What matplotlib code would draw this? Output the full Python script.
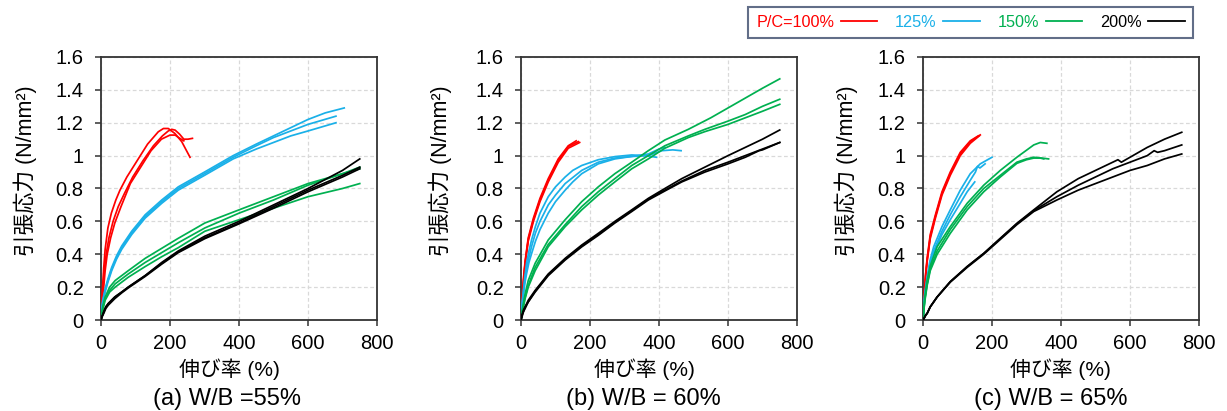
import matplotlib
matplotlib.use("Agg")
import matplotlib.pyplot as plt
from matplotlib.lines import Line2D
from matplotlib.ticker import FuncFormatter

plt.rcParams['font.family'] = ['Liberation Sans', 'Noto Sans CJK JP', 'DejaVu Sans']

# ---------------- data (elongation %, tensile stress N/mm2) ----------------
# panel (a) W/B = 55%
a_red = [
    [(0,0),(2,0.1),(4,0.18),(8,0.32),(12,0.43),(20,0.56),(30,0.65),(43,0.73),(55,0.79),(75,0.87),(105,0.97),(135,1.07),(166,1.145),(181,1.165),(195,1.165),(214,1.135),(234,1.085),(258,0.99)],
    [(0,0),(2,0.09),(5,0.18),(10,0.31),(15,0.4),(23,0.5),(35,0.6),(50,0.69),(68,0.77),(92,0.87),(122,0.97),(152,1.06),(178,1.12),(195,1.15),(205,1.16),(215,1.155),(228,1.13),(240,1.1),(252,1.1),(265,1.105)],
    [(0,0),(3,0.09),(7,0.18),(12,0.3),(18,0.4),(28,0.5),(40,0.59),(58,0.69),(85,0.83),(115,0.93),(145,1.03),(175,1.1),(200,1.125),(215,1.125),(225,1.11),(240,1.09)],
]
a_blue = [
    [(0,0),(2,0.06),(5,0.12),(12,0.19),(20,0.25),(31,0.32),(45,0.39),(60,0.45),(89,0.54),(128,0.64),(176,0.73),(224,0.81),(300,0.9),(383,1.0),(450,1.07),(500,1.12),(550,1.17),(600,1.22),(650,1.26),(705,1.29)],
    [(0,0),(2,0.05),(5,0.11),(12,0.18),(20,0.24),(31,0.31),(45,0.38),(60,0.44),(89,0.53),(128,0.63),(176,0.72),(224,0.8),(300,0.89),(383,0.99),(450,1.06),(500,1.11),(550,1.15),(600,1.19),(681,1.24)],
    [(0,0),(2,0.05),(5,0.1),(12,0.17),(20,0.23),(31,0.3),(45,0.37),(60,0.43),(89,0.52),(128,0.62),(176,0.71),(224,0.79),(300,0.88),(383,0.98),(450,1.04),(500,1.08),(550,1.12),(600,1.15),(681,1.2)],
]
a_green = [
    [(0,0),(3,0.05),(6,0.09),(12,0.14),(25,0.2),(41,0.24),(60,0.27),(79,0.3),(128,0.375),(176,0.436),(224,0.497),(301,0.59),(400,0.67),(500,0.75),(600,0.83),(700,0.89),(750,0.92)],
    [(0,0),(3,0.04),(6,0.08),(12,0.13),(25,0.18),(41,0.22),(60,0.25),(79,0.28),(128,0.35),(176,0.41),(224,0.47),(301,0.56),(400,0.65),(500,0.73),(600,0.82),(700,0.89),(750,0.93)],
    [(0,0),(3,0.04),(6,0.07),(12,0.12),(25,0.17),(41,0.2),(60,0.23),(79,0.26),(128,0.325),(176,0.385),(224,0.44),(301,0.54),(400,0.61),(500,0.68),(600,0.75),(700,0.8),(750,0.83)],
]
a_black = [
    [(0,0),(3,0.02),(8,0.05),(14,0.08),(21,0.1),(40,0.14),(60,0.17),(79,0.2),(128,0.27),(176,0.35),(224,0.42),(301,0.51),(400,0.6),(500,0.7),(600,0.8),(700,0.91),(750,0.98)],
    [(0,0),(3,0.02),(8,0.05),(14,0.08),(21,0.1),(40,0.14),(60,0.17),(79,0.2),(128,0.27),(176,0.345),(224,0.415),(301,0.5),(400,0.59),(500,0.69),(600,0.79),(700,0.88),(750,0.93)],
    [(0,0),(3,0.02),(8,0.04),(14,0.07),(21,0.09),(40,0.13),(60,0.165),(79,0.195),(128,0.265),(176,0.34),(224,0.41),(301,0.495),(400,0.585),(500,0.68),(600,0.78),(700,0.87),(750,0.92)],
]
# panel (b) W/B = 60%
b_red = [
    [(0,0),(2,0.09),(4,0.15),(8,0.27),(12,0.36),(21,0.5),(36,0.62),(55,0.74),(79,0.86),(108,0.98),(137,1.06),(160,1.09)],
    [(0,0),(2,0.08),(4,0.14),(8,0.26),(12,0.35),(21,0.49),(36,0.61),(55,0.73),(79,0.85),(108,0.97),(137,1.055),(166,1.085)],
    [(0,0),(2,0.07),(4,0.13),(8,0.25),(12,0.34),(21,0.48),(36,0.6),(55,0.72),(79,0.84),(108,0.96),(137,1.045),(170,1.08)],
]
b_blue = [
    [(0,0),(2,0.07),(4,0.12),(7,0.18),(11,0.26),(16,0.345),(23,0.42),(31,0.49),(42,0.57),(55,0.65),(79,0.75),(100,0.81),(128,0.87),(150,0.91),(176,0.94),(224,0.975),(272,0.994),(321,1.004),(360,1.0),(393,0.99)],
    [(0,0),(2,0.06),(4,0.11),(7,0.17),(11,0.24),(16,0.31),(23,0.38),(31,0.45),(42,0.53),(55,0.6),(79,0.7),(100,0.76),(128,0.83),(176,0.91),(224,0.96),(272,0.985),(321,0.995),(369,1.01),(400,1.04),(417,1.05)],
    [(0,0),(2,0.05),(4,0.1),(7,0.15),(11,0.22),(16,0.28),(23,0.35),(31,0.406),(42,0.48),(55,0.55),(79,0.65),(100,0.72),(128,0.79),(150,0.84),(176,0.89),(224,0.95),(272,0.98),(321,0.995),(369,1.0),(408,1.03),(440,1.035),(464,1.03)],
]
b_green = [
    [(0,0),(3,0.05),(7,0.1),(12,0.16),(21,0.24),(41,0.345),(79,0.487),(128,0.61),(176,0.72),(224,0.81),(272,0.89),(321,0.96),(369,1.03),(417,1.095),(485,1.16),(550,1.23),(600,1.29),(650,1.35),(700,1.41),(750,1.467)],
    [(0,0),(3,0.04),(7,0.09),(12,0.14),(21,0.21),(41,0.32),(79,0.46),(128,0.58),(176,0.69),(224,0.78),(272,0.86),(321,0.94),(369,1.0),(417,1.06),(485,1.12),(533,1.16),(600,1.21),(650,1.25),(700,1.3),(750,1.343)],
    [(0,0),(3,0.04),(7,0.08),(12,0.13),(21,0.2),(41,0.3),(79,0.446),(128,0.568),(176,0.67),(224,0.76),(272,0.84),(321,0.92),(369,0.98),(417,1.045),(485,1.11),(533,1.146),(600,1.19),(650,1.23),(700,1.27),(750,1.312)],
]
b_black = [
    [(0,0),(3,0.03),(7,0.06),(12,0.08),(21,0.12),(41,0.18),(79,0.28),(128,0.375),(176,0.456),(224,0.527),(272,0.6),(321,0.67),(369,0.74),(417,0.8),(466,0.86),(533,0.93),(600,1.0),(650,1.05),(700,1.1),(750,1.156)],
    [(0,0),(3,0.03),(7,0.05),(12,0.08),(21,0.11),(41,0.175),(79,0.275),(128,0.37),(176,0.45),(224,0.52),(272,0.595),(321,0.665),(369,0.735),(417,0.79),(466,0.845),(533,0.91),(600,0.96),(650,1.0),(700,1.04),(750,1.08)],
    [(0,0),(3,0.02),(7,0.05),(12,0.07),(21,0.11),(41,0.17),(79,0.27),(128,0.365),(176,0.445),(224,0.515),(272,0.59),(321,0.66),(369,0.73),(417,0.785),(466,0.84),(533,0.9),(600,0.95),(650,0.99),(690,1.03),(700,1.035),(750,1.08)],
]
# panel (c) W/B = 65%
c_red = [
    [(0,0),(2,0.1),(4,0.17),(8,0.29),(12,0.375),(21,0.52),(36,0.64),(55,0.78),(79,0.9),(108,1.02),(137,1.09),(160,1.12)],
    [(0,0),(2,0.09),(4,0.16),(8,0.28),(12,0.365),(21,0.507),(36,0.63),(55,0.77),(79,0.89),(108,1.01),(137,1.085),(166,1.126)],
    [(0,0),(2,0.08),(4,0.15),(8,0.27),(12,0.355),(21,0.495),(36,0.62),(55,0.76),(79,0.88),(108,1.0),(137,1.075),(163,1.12)],
]
c_blue = [
    [(0,0),(2,0.08),(5,0.16),(12,0.26),(20,0.36),(31,0.446),(55,0.568),(79,0.67),(108,0.79),(137,0.89),(166,0.95),(200,0.99)],
    [(0,0),(2,0.07),(5,0.15),(12,0.25),(20,0.34),(31,0.42),(55,0.54),(79,0.64),(108,0.75),(137,0.85),(152,0.9),(158,0.935),(165,0.925),(180,0.95)],
    [(0,0),(2,0.06),(5,0.13),(12,0.22),(20,0.31),(31,0.405),(55,0.52),(79,0.61),(108,0.71),(128,0.78),(150,0.84)],
]
c_green = [
    [(0,0),(2,0.06),(5,0.13),(12,0.24),(21,0.33),(41,0.446),(79,0.568),(128,0.71),(176,0.82),(224,0.91),(272,0.99),(321,1.065),(340,1.08),(359,1.075)],
    [(0,0),(2,0.05),(5,0.12),(12,0.22),(21,0.31),(41,0.42),(79,0.55),(128,0.69),(176,0.8),(224,0.88),(272,0.96),(300,0.98),(321,0.99),(345,0.985),(364,0.98)],
    [(0,0),(2,0.05),(5,0.11),(12,0.21),(21,0.3),(41,0.4),(79,0.527),(128,0.67),(176,0.78),(224,0.87),(272,0.953),(300,0.975),(321,0.985),(340,0.985),(350,0.98)],
]
c_black = [
    [(0,0),(3,0.01),(8,0.03),(12,0.04),(21,0.08),(41,0.14),(79,0.233),(128,0.325),(176,0.405),(224,0.497),(272,0.588),(321,0.67),(388,0.78),(450,0.86),(500,0.91),(550,0.96),(565,0.975),(575,0.96),(600,0.99),(650,1.05),(700,1.1),(750,1.142)],
    [(0,0),(3,0.01),(8,0.03),(12,0.04),(21,0.08),(41,0.14),(79,0.233),(128,0.325),(176,0.405),(224,0.495),(272,0.585),(321,0.665),(388,0.75),(450,0.82),(500,0.87),(550,0.92),(600,0.96),(650,1.0),(670,1.03),(680,1.02),(700,1.03),(750,1.065)],
    [(0,0),(3,0.01),(8,0.03),(12,0.04),(21,0.08),(41,0.14),(79,0.23),(128,0.32),(176,0.4),(224,0.49),(272,0.58),(321,0.66),(388,0.73),(450,0.79),(500,0.83),(550,0.87),(600,0.91),(650,0.94),(700,0.98),(750,1.01)],
]

panel_titles = ["(a) W/B =55%", "(b) W/B = 60%", "(c) W/B = 65%"]
legend_labels = ["P/C=100%", "125%", "150%", "200%"]
x_ticks = [0, 200, 400, 600, 800]
y_ticks = [0, 0.2, 0.4, 0.6, 0.8, 1.0, 1.2, 1.4, 1.6]

COLORS = ["#FF0000", "#1AB0E8", "#00B050", "#000000"]

panels = [
    (a_red, a_blue, a_green, a_black),
    (b_red, b_blue, b_green, b_black),
    (c_red, c_blue, c_green, c_black),
]

FIG_W, FIG_H = 1227, 411
fig = plt.figure(figsize=(FIG_W / 100, FIG_H / 100), dpi=100)
lefts_px = [101, 521, 923]
AX_W_PX, AX_BOT_PX, AX_TOP_PX = 276, 320, 57
W = AX_W_PX / FIG_W
B = (FIG_H - AX_BOT_PX) / FIG_H
H = (AX_BOT_PX - AX_TOP_PX) / FIG_H
AX_H_PX = AX_BOT_PX - AX_TOP_PX

# label centres in pixels (x of y-label, x of x-label, x of subtitle)
ylabel_x_px = [25, 440, 846]
xlabel_x_px = [229, 644, 1060]
title_x_px = [227, 643, 1051]

for i, (left_px, groups) in enumerate(zip(lefts_px, panels)):
    ax = fig.add_axes([left_px / FIG_W, B, W, H])
    for color, curves in zip(COLORS, groups):
        for curve in curves:
            xs = [p[0] for p in curve]
            ys = [p[1] for p in curve]
            ax.plot(xs, ys, color=color, lw=1.25, zorder=3,
                    solid_joinstyle="round")
    ax.set_xlim(0, 800)
    ax.set_ylim(0, 1.6)
    ax.set_xticks(x_ticks)
    ax.set_yticks(y_ticks)
    ax.yaxis.set_major_formatter(FuncFormatter(lambda v, p: f"{v:g}"))
    ax.grid(True, color="#d9d9d9", lw=0.9, ls=(0, (3, 2)))
    ax.set_axisbelow(True)
    for s in ax.spines.values():
        s.set_color("#333333")
        s.set_linewidth(1.3)
    ax.tick_params(direction="out", length=4.5, width=1.1, color="#333333",
                   labelsize=14.5)
    ax.tick_params(axis="x", pad=5.5)
    ax.tick_params(axis="y", pad=8)

    ax.set_ylabel("引張応力 (N/mm²)", fontsize=15.5, va="center",
                  rotation_mode="default")
    ax.yaxis.set_label_coords((ylabel_x_px[i] - left_px) / AX_W_PX,
                              (AX_BOT_PX - 171) / AX_H_PX)
    ax.set_xlabel("伸び率 (%)", fontsize=15, va="center")
    ax.xaxis.set_label_coords((xlabel_x_px[i] - left_px) / AX_W_PX,
                              (AX_BOT_PX - 369) / AX_H_PX)
    ax.text((title_x_px[i] - left_px) / AX_W_PX, (AX_BOT_PX - 399) / AX_H_PX,
            panel_titles[i], transform=ax.transAxes,
            ha="center", va="center", fontsize=17)

handles = [Line2D([], [], color=c, lw=1.3) for c in COLORS]
leg = fig.legend(handles, legend_labels, loc="upper right",
                 bbox_to_anchor=(1193 / FIG_W, 1 - 7 / FIG_H), ncol=4,
                 markerfirst=False, handlelength=2.25, handletextpad=0.4,
                 columnspacing=1.1, fontsize=11.7, labelcolor=COLORS,
                 frameon=True, fancybox=False, borderaxespad=0,
                 borderpad=0.5)
leg.get_frame().set_edgecolor("#3b4a6b")
leg.get_frame().set_linewidth(1.5)

fig.savefig("out.png", dpi=100)
